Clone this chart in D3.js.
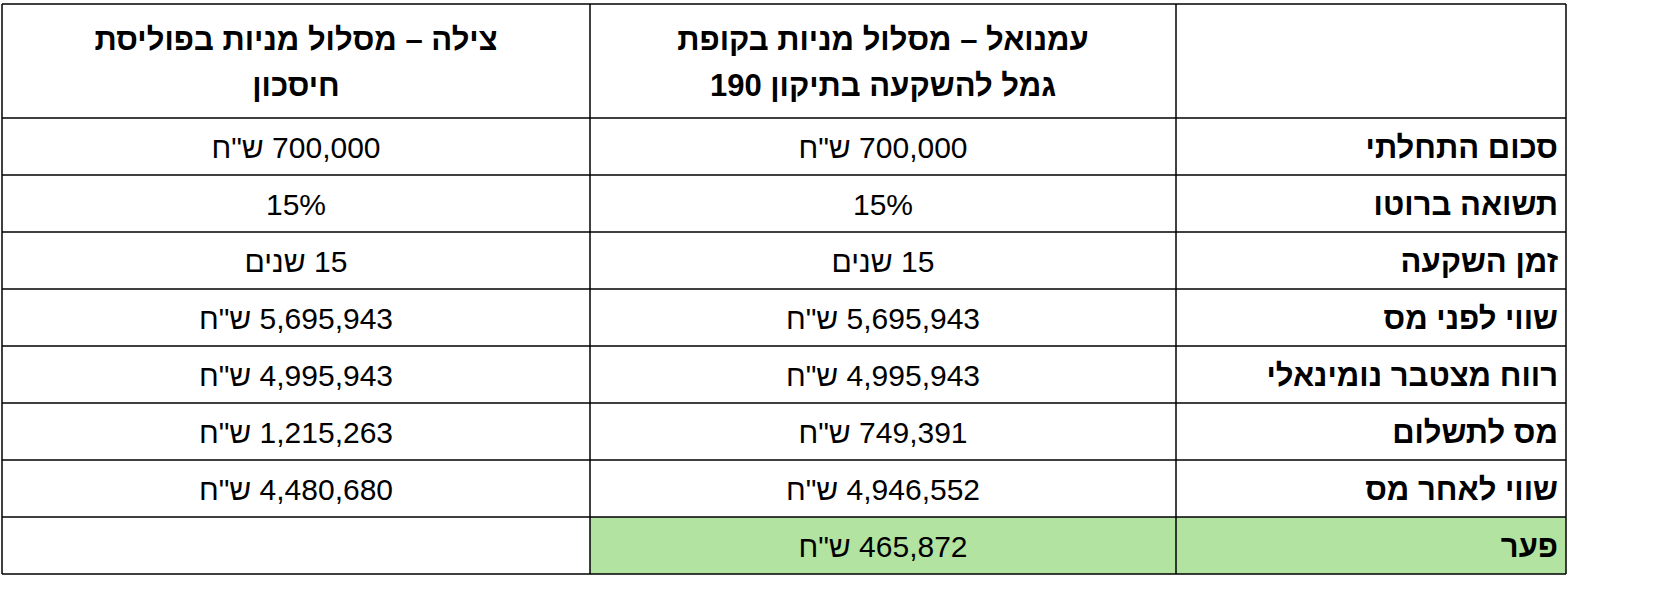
<!DOCTYPE html>
<html><head><meta charset="utf-8">
<script src="https://cdn.jsdelivr.net/npm/d3@7"></script>
<style>body{margin:0;background:#fff}text{font-family:"Liberation Sans",Arial,sans-serif}</style>
</head><body><svg id="t" width="1657" height="612"></svg>
<script>
const headerMid = ["עמנואל – מסלול מניות בקופת", "גמל להשקעה בתיקון 190"];
const headerLeft = ["צילה – מסלול מניות בפוליסת", "חיסכון"];
const rowLabels = ["סכום התחלתי","תשואה ברוטו","זמן השקעה","שווי לפני מס","רווח מצטבר נומינאלי","מס לתשלום","שווי לאחר מס","פער"];
const emanuel = ['700,000 ש"ח','15%','15 שנים','5,695,943 ש"ח','4,995,943 ש"ח','749,391 ש"ח','4,946,552 ש"ח','465,872 ש"ח'];
const tzila = ['700,000 ש"ח','15%','15 שנים','5,695,943 ש"ח','4,995,943 ש"ח','1,215,263 ש"ח','4,480,680 ש"ח',''];

const svg = d3.select("#t");
const colX = [2, 590, 1176, 1566]; // left, mid, right col edges
const tableTop = 4, headBottom = 118, tableBottom = 574;
const y = d3.scaleBand().domain(d3.range(rowLabels.length)).range([headBottom, tableBottom]);

// highlight last row
const last = rowLabels.length - 1;
svg.append("rect").attr("x", colX[1]).attr("y", y(last)).attr("width", colX[3]-colX[1]).attr("height", y.bandwidth()).attr("fill", "#b3e3a0");

// grid
const g = svg.append("g").attr("stroke", "#000").attr("stroke-width", 1.5);
colX.forEach(x => g.append("line").attr("x1", x).attr("x2", x).attr("y1", tableTop).attr("y2", tableBottom));
[tableTop, headBottom, ...d3.range(rowLabels.length).map(i => y(i) + y.bandwidth())].forEach(v =>
  g.append("line").attr("x1", colX[0]).attr("x2", colX[3]).attr("y1", v).attr("y2", v));

// headers
function header(lines, cx) {
  lines.forEach((s, i) => svg.append("text").attr("x", cx).attr("y", 50 + i * 46)
    .attr("text-anchor", "middle").attr("direction", "rtl").attr("font-size", 31).attr("font-weight", "bold").text(s));
}
header(headerMid, (colX[1] + colX[2]) / 2);
header(headerLeft, (colX[0] + colX[1]) / 2);

// rows
rowLabels.forEach((lab, i) => {
  const cy = y(i) + y.bandwidth() / 2 + 11;
  svg.append("text").attr("x", colX[3] - 8).attr("y", cy).attr("text-anchor", "start").attr("direction", "rtl")
    .attr("font-size", 31).attr("font-weight", "bold").text(lab);
  svg.append("text").attr("x", (colX[1] + colX[2]) / 2).attr("y", cy).attr("text-anchor", "middle").attr("direction", "rtl")
    .attr("font-size", 30).text(emanuel[i]);
  svg.append("text").attr("x", (colX[0] + colX[1]) / 2).attr("y", cy).attr("text-anchor", "middle").attr("direction", "rtl")
    .attr("font-size", 30).text(tzila[i]);
});
</script></body></html>
